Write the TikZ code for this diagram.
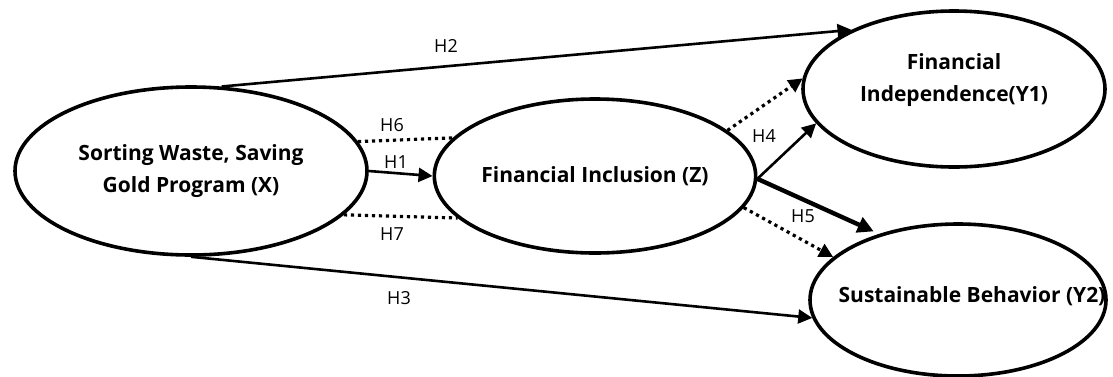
\documentclass[tikz,border=0pt]{standalone}
\usepackage{fontspec}
\setmainfont{Open Sans}
\usetikzlibrary{arrows.meta,shapes.geometric}

\tikzset{
	construct/.style={ellipse, draw, line width=1.8pt, inner sep=0pt, align=center,
		font=\bfseries\fontsize{10.5}{16}\selectfont},
	effect/.style={line width=1.3pt, -{Triangle[length=7pt,width=7pt]}},
	strong/.style={line width=2.2pt, -{Triangle[length=8pt,width=8pt]}},
	mediated/.style={line width=1.6pt, dash pattern=on 1.6pt off 1.9pt},
	hyp/.style={font=\fontsize{9}{10}\selectfont}
}

\begin{document}
\begin{tikzpicture}[x=0.5pt, y=-0.5pt]
	\useasboundingbox (0, 0) rectangle (1113, 376);

	\node[construct, minimum width=176pt, minimum height=84pt] (X) at (191, 171) {Sorting Waste, Saving\\Gold Program (X)};
	\node[construct, minimum width=150pt, minimum height=77pt] (Z) at (595, 176) {Financial Inclusion (Z)};
	\node[construct, minimum width=151pt, minimum height=78pt] (Y1) at (954, 89) {Financial\\Independence(Y1)\\[-5pt]};
	\node[construct, minimum width=148pt, minimum height=76pt,
		label={[font=\bfseries\fontsize{10.5}{16}\selectfont, xshift=7pt, yshift=2pt]center:Sustainable Behavior (Y2)}] (Y2) at (958, 300) {};

	\draw[effect] (X.east) -- (Z.west);
	\draw[effect] (X.70) -- (Y1.150);
	\draw[effect] (X.-90) -- (Y2.187);
	\draw[effect] (Z.-1) -- (Y1.194);
	\draw[strong, shorten >=3pt] (Z.-1) -- (Y2.140);

	\draw[mediated] (X.10) -- (Z.165);
	\draw[mediated] (X.-16) -- (Z.197);
	\draw[mediated, -{Triangle[length=7pt,width=7pt]}] (Z.19) -- (Y1.176);
	\draw[mediated, -{Triangle[length=7pt,width=7pt]}] (Z.-12) -- (Y2.161);

	\node[hyp] (h1) at (396, 162) {H1};
	\node[hyp] (h2) at (446, 46) {H2};
	\node[hyp] (h3) at (399, 298) {H3};
	\node[hyp] (h4) at (764, 136) {H4};
	\node[hyp] (h5) at (803, 216) {H5};
	\node[hyp] (h6) at (392, 125) {H6};
	\node[hyp] (h7) at (392, 234) {H7};

\end{tikzpicture}
\end{document}
